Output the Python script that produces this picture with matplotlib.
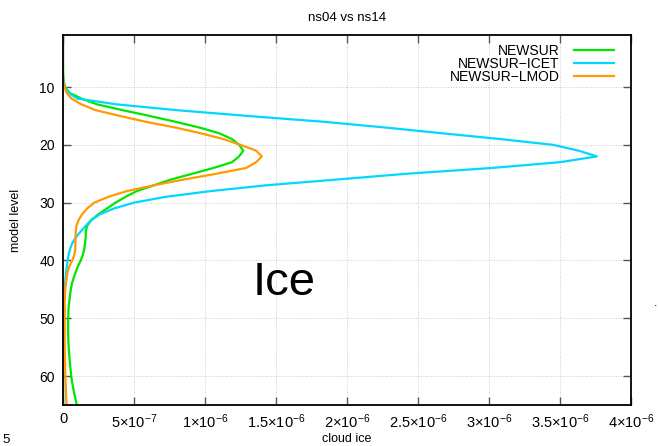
import numpy as np
import matplotlib
matplotlib.use('Agg')
import matplotlib.pyplot as plt
import matplotlib.ticker as mticker

plt.rcParams['font.family'] = ['Liberation Sans', 'DejaVu Sans']
plt.rcParams['mathtext.fontset'] = 'custom'
plt.rcParams['mathtext.rm'] = 'Liberation Sans'
plt.rcParams['mathtext.it'] = 'Liberation Sans:italic'

# --- data: cloud ice (units of 1e-6) per model level 1..65 ---
levels = np.arange(1, 66)

newsur = [0, 0, 0, 0, 0, 0, 0, 0.002, 0.006, 0.015,
          0.045, 0.13, 0.24, 0.42, 0.61, 0.79, 0.96, 1.10, 1.19, 1.24,
          1.27, 1.24, 1.19, 1.06, 0.91, 0.76, 0.64, 0.52, 0.44, 0.37,
          0.31, 0.25, 0.20, 0.17, 0.16, 0.16, 0.155, 0.15, 0.14, 0.125,
          0.105, 0.09, 0.075, 0.063, 0.055, 0.05, 0.045, 0.04, 0.038, 0.037,
          0.036, 0.036, 0.037, 0.038, 0.04, 0.043, 0.046, 0.05, 0.054, 0.058,
          0.064, 0.071, 0.079, 0.088, 0.098]

newsur_icet = [0, 0, 0, 0, 0, 0, 0, 0, 0.003, 0.01,
               0.04, 0.10, 0.38, 0.80, 1.30, 1.83, 2.27, 2.67, 3.08, 3.45,
               3.63, 3.76, 3.50, 3.02, 2.42, 1.93, 1.43, 1.04, 0.72, 0.50,
               0.36, 0.26, 0.20, 0.16, 0.125, 0.09, 0.065, 0.05, 0.04, 0.032,
               0.027, 0.022, 0.018, 0.014, 0.011, 0.009, 0.007, 0.006, 0.005, 0.005,
               0.004, 0.004, 0.004, 0.003, 0.003, 0.003, 0.003, 0.003, 0.002, 0.002,
               0.002, 0.002, 0.002, 0.002, 0.002]

newsur_lmod = [0, 0, 0, 0, 0, 0, 0, 0, 0.002, 0.01,
               0.026, 0.06, 0.13, 0.23, 0.40, 0.58, 0.79, 0.97, 1.13, 1.25,
               1.36, 1.40, 1.36, 1.29, 1.08, 0.85, 0.64, 0.45, 0.32, 0.22,
               0.17, 0.135, 0.11, 0.095, 0.09, 0.088, 0.087, 0.087, 0.08, 0.065,
               0.045, 0.032, 0.026, 0.02, 0.016, 0.014, 0.012, 0.012, 0.012, 0.012,
               0.012, 0.012, 0.012, 0.012, 0.012, 0.013, 0.014, 0.015, 0.016, 0.017,
               0.018, 0.02, 0.021, 0.023, 0.025]

series_names = ['NEWSUR', 'NEWSUR\u2212ICET', 'NEWSUR\u2212LMOD']
series_colors = ['#00e600', '#00d8ff', '#ff9a00']

x_ticks = [0, 5e-7, 1e-6, 1.5e-6, 2e-6, 2.5e-6, 3e-6, 3.5e-6, 4e-6]
x_tick_labels = ['0', r'$5{\times}10^{-7}$', r'$1{\times}10^{-6}$', r'$1.5{\times}10^{-6}$',
                 r'$2{\times}10^{-6}$', r'$2.5{\times}10^{-6}$', r'$3{\times}10^{-6}$',
                 r'$3.5{\times}10^{-6}$', r'$4{\times}10^{-6}$']
y_ticks = [10, 20, 30, 40, 50, 60]

# --- plot ---
fig = plt.figure(figsize=(6.58, 4.46), dpi=100)
ax = fig.add_axes([63 / 658, 1 - 405 / 446, 568 / 658, 370 / 446])

for vals, name, col in zip([newsur, newsur_icet, newsur_lmod], series_names, series_colors):
    ax.plot(np.array(vals) * 1e-6, levels, color=col, lw=1.6, label=name)

ax.set_xlim(0, 4e-6)
ax.set_ylim(65, 1)
ax.set_xticks(x_ticks)
ax.set_xticklabels(x_tick_labels)
ax.set_yticks(y_ticks)

ax.tick_params(direction='in', top=True, right=True, length=6, width=1,
               labelsize=10, colors='#555555', labelcolor='black', pad=6)
ax.tick_params(axis='x', labelsize=10.5, pad=5)
for s in ax.spines.values():
    s.set_linewidth(1.3)

ax.grid(True, linestyle=(0, (1, 2)), linewidth=0.6, color='#bbbbbb')
ax.set_axisbelow(True)

ax.set_title('ns04 vs ns14', fontsize=9.5, pad=10)
ax.set_xlabel('cloud ice', fontsize=9, labelpad=2)
ax.set_ylabel('model level', fontsize=9, labelpad=12)

ax.text(0.39, 0.33, 'Ice', transform=ax.transAxes, fontsize=34,
        ha='center', va='center')

leg = ax.legend(loc='upper right', bbox_to_anchor=(0.970, 0.975), markerfirst=False,
                frameon=False, fontsize=10, handlelength=2.9, handletextpad=1.0,
                labelspacing=-0.08, borderpad=0, borderaxespad=0)

fig.text(2 / 658, 1 - 440 / 446, '5', fontsize=9.5, ha='left', va='center')
fig.text(654 / 658, 1 - 306 / 446, '.', fontsize=9, ha='left', va='baseline')

plt.savefig('out.png', dpi=100)
